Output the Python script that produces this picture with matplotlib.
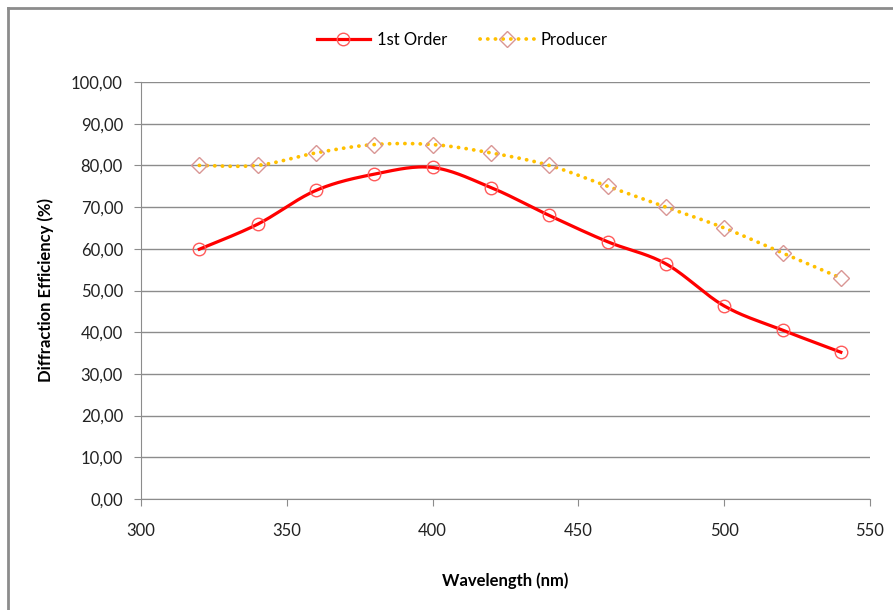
import matplotlib.pyplot as plt
from matplotlib.lines import Line2D
import numpy as np

wavelength = [320, 340, 360, 380, 400, 420, 440, 460, 480, 500, 520, 540]
first_order = [59.9, 65.9, 74.0, 77.9, 79.5, 74.7, 68.0, 61.7, 56.4, 46.3, 40.5, 35.2]
producer = [80, 80, 83, 85, 85, 83, 80, 75, 70, 65, 59, 53]

plt.rcParams['font.family'] = ['Lato', 'DejaVu Sans']


def smooth(xs, ys, n=30):
    # excel-like smoothed line (catmull-rom as bezier)
    p = np.column_stack([xs, ys]).astype(float)
    p = np.vstack([p[0], p, p[-1]])
    out = []
    t = np.linspace(0, 1, n)[:, None]
    for i in range(1, len(p) - 2):
        p0, p1, p2, p3 = p[i - 1], p[i], p[i + 1], p[i + 2]
        c1 = p1 + (p2 - p0) / 6
        c2 = p2 - (p3 - p1) / 6
        seg = ((1 - t) ** 3) * p1 + 3 * ((1 - t) ** 2) * t * c1 + 3 * (1 - t) * t ** 2 * c2 + t ** 3 * p2
        out.append(seg)
    out = np.vstack(out)
    return out[:, 0], out[:, 1]


dots = (0, (0.05, 2.0))

fig = plt.figure(figsize=(8.93, 6.10), dpi=100)
ax = fig.add_axes([141 / 893, 1 - 499 / 610, (870 - 141) / 893, (499 - 82) / 610])

sx, sy = smooth(wavelength, producer)
ax.plot(sx, sy, color='#FFC000', lw=2.7, linestyle=dots, dash_capstyle='round', zorder=3)
ax.plot(wavelength, producer, linestyle='none', marker='D', markersize=8,
        markerfacecolor='none', markeredgecolor='#D99694', markeredgewidth=1.0, zorder=4)

sx, sy = smooth(wavelength, first_order)
ax.plot(sx, sy, color='#FF0000', lw=2.3, zorder=3)
ax.plot(wavelength, first_order, linestyle='none', marker='o', markersize=9,
        markerfacecolor='none', markeredgecolor='#FF5A5A', markeredgewidth=1.0, zorder=4)

ax.set_xlim(300, 550)
ax.set_ylim(0, 100)
ax.set_xticks(range(300, 551, 50))
ax.set_yticks(range(0, 101, 10))
ax.set_yticklabels(['%d,00' % v for v in range(0, 101, 10)])
ax.yaxis.grid(True, color='#8C8C8C', lw=1)
ax.set_axisbelow(True)
for s in ['top', 'right']:
    ax.spines[s].set_visible(False)
for s in ['left', 'bottom']:
    ax.spines[s].set_color('#8C8C8C')
ax.tick_params(axis='both', colors='#8C8C8C', length=5, labelcolor='#222222', labelsize=12)
ax.tick_params(axis='x', pad=12)
ax.tick_params(axis='y', pad=8)

ax.set_xlabel('Wavelength (nm)', fontsize=12, fontweight='bold', labelpad=24)
ax.set_ylabel('Diffraction Efficiency (%)', fontsize=12, fontweight='bold', labelpad=12)

h1 = Line2D([], [], color='#FF0000', lw=2.3, marker='o', markersize=9,
            markerfacecolor='none', markeredgecolor='#FF5A5A')
h2 = Line2D([], [], color='#FFC000', lw=2.7, linestyle=dots, dash_capstyle='round', marker='D', markersize=8,
            markerfacecolor='none', markeredgecolor='#D99694')
fig.legend([h1, h2], ['1st Order', 'Producer'], loc='center', bbox_to_anchor=(462 / 893, 1 - 40 / 610),
           ncol=2, frameon=False, fontsize=12, handlelength=3.2, columnspacing=2.0, handletextpad=0.4)

# chart area border
fig.add_artist(Line2D([8 / 893, 1], [1 - 7.5 / 610, 1 - 7.5 / 610], color='#8C8C8C', lw=2))
fig.add_artist(Line2D([8 / 893, 8 / 893], [0, 1 - 7.5 / 610], color='#8C8C8C', lw=2))

fig.savefig('out.png', dpi=100)
